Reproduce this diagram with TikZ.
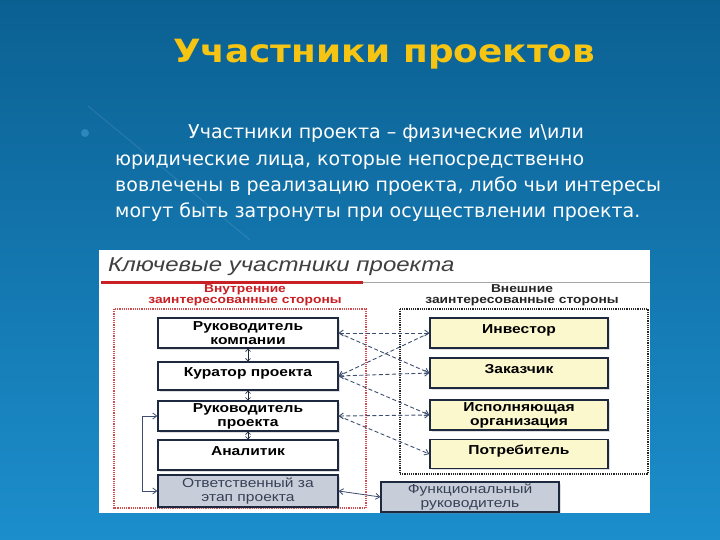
\documentclass[tikz,border=0pt]{standalone}
\usepackage{fontspec}
\setmainfont{DejaVu Sans}
\newfontfamily\panelfont[FakeStretch=1.2]{Liberation Sans}
\newfontfamily\titlefont[FakeStretch=1.12]{DejaVu Sans}
\usetikzlibrary{arrows.meta,shadows}

\definecolor{bgtop}{RGB}{11,96,146}
\definecolor{bgbot}{RGB}{28,142,204}
\definecolor{titleyellow}{RGB}{246,196,18}
\definecolor{boxline}{RGB}{30,40,62}
\definecolor{yellowbox}{RGB}{252,248,206}
\definecolor{graybox}{RGB}{200,205,218}
\definecolor{graytext}{RGB}{55,65,85}
\definecolor{linkcol}{RGB}{62,78,112}
\definecolor{redline}{RGB}{200,32,36}

\begin{document}
\begin{tikzpicture}[x=1pt, y=-1pt,
  box/.style = {draw=boxline, line width=1.3pt, fill=white, minimum width=180pt, minimum height=30pt, inner sep=1pt, align=center, font=\panelfont\bfseries\fontsize{13}{14}\selectfont, drop shadow={shadow xshift=1.5pt, shadow yshift=-1.5pt, opacity=.25}},
  extbox/.style = {box, fill=yellowbox, minimum width=178pt},
  grbox/.style = {box, fill=graybox, font=\panelfont\fontsize{13}{14}\selectfont, text=graytext},
  oneline/.style = {text height=9pt, text depth=9pt},
  link/.style = {linkcol, line width=0.9pt, dash pattern=on 4pt off 2.5pt, >={Straight Barb[length=4pt,width=6pt]}},
  updown/.style = {boxline, line width=0.6pt, <->, >={Straight Barb[length=2.5pt,width=5pt]}},
  solidlink/.style = {linkcol, line width=0.8pt, <->, >={Straight Barb[length=4pt,width=6pt]}},
  para/.style = {anchor=base west, inner sep=0pt, text=white, font=\fontsize{19}{22}\selectfont}]
\useasboundingbox (0,0) rectangle (720,540);

% background and title
\shade[top color=bgtop, bottom color=bgbot] (0,0) rectangle (720,540);
\draw[white, opacity=.1, line width=1pt] (88,106) -- (250,240);
\node[anchor=base, text=titleyellow, font=\titlefont\bfseries\fontsize{32}{34}\selectfont] (title) at (384,63) {Участники проектов};

\fill[bgbot!80!white, opacity=.5] (85,133) circle (4);
\node[para] (l1) at (188,139) {Участники проекта – физические и\textbackslash или};
\node[para] (l2) at (115,166) {юридические лица, которые непосредственно};
\node[para] (l3) at (115,192) {вовлечены в реализацию проекта, либо чьи интересы};
\node[para] (l4) at (115,218) {могут быть затронуты при осуществлении проекта.};

% picture panel
\fill[white] (99,250) rectangle (650,513);
\node[anchor=base west, inner sep=0pt, text=black!75, font=\panelfont\itshape\fontsize{20}{22}\selectfont] (head) at (108,271) {Ключевые участники проекта};
\draw[black!35, line width=0.6pt] (363,282) -- (650,282);
\draw[redline, line width=3pt] (101,282) -- (363,282);
\node[align=center, text=redline, font=\panelfont\bfseries\fontsize{11.5}{11}\selectfont] (inner) at (245,295.5) {Внутренние\\заинтересованные стороны};
\node[align=center, text=black!85, font=\panelfont\bfseries\fontsize{11.5}{11}\selectfont] (outer) at (522,295.5) {Внешние\\заинтересованные стороны};
\draw[redline!80, line width=1.2pt, densely dotted] (114,309) rectangle (366,508);
\draw[black!85, line width=1.2pt, densely dotted] (400,309) rectangle (648,474);

% inner side
\node[box] (kom) at (248,333) {Руководитель\\компании};
\node[box, oneline, minimum height=28pt] (kur) at (248,376) {Куратор проекта};
\node[box] (rp) at (248,416) {Руководитель\\проекта};
\node[box, oneline] (an) at (248,455) {Аналитик};
\node[grbox, minimum height=32pt] (otv) at (248,491) {Ответственный за\\этап проекта};

% outer side
\node[extbox, oneline] (inv) at (519,333) {Инвестор};
\node[extbox, oneline] (zak) at (519,373) {Заказчик};
\node[extbox] (isp) at (519,415) {Исполняющая\\организация};
\node[extbox, oneline, minimum height=29pt] (potr) at (519,454) {Потребитель};
\node[grbox, minimum width=178pt] (fun) at (470,497) {Функциональный\\руководитель};

\draw[updown] (kom) -- (kur);
\draw[updown] (kur) -- (rp);
\draw[updown] (rp) -- (an);

\draw[link, <->] (kom.east) -- (inv.west);
\draw[link, ->] (kom.east) -- (zak.west);
\draw[link, ->] (inv.west) -- (kur.east);
\draw[link, <->] (kur.east) -- (zak.west);
\draw[link, ->] (kur.east) -- (isp.west);
\draw[link, <->] (rp.east) -- (isp.west);
\draw[link, ->] (rp.east) -- (potr.west);

\draw[solidlink] (otv.west) -- ++(-15,0) |- (rp.west);
\draw[solidlink] (otv.east) -- (fun.west);
\end{tikzpicture}
\end{document}
